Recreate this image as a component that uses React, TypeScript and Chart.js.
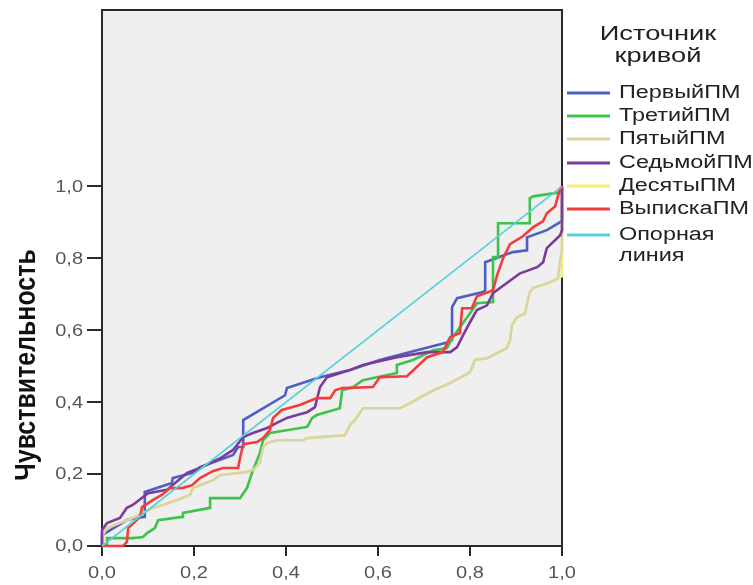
import React, { useEffect, useRef } from "react";
import { Chart, registerables } from "chart.js";

Chart.register(...registerables);

// ---- Data ----
const tickValues = [0, 0.2, 0.4, 0.6, 0.8, 1.0];
const tickLabels = ["0,0", "0,2", "0,4", "0,6", "0,8", "1,0"];
const yAxisTitle = "Чувствительность";
const legendTitle = ["Источник", "кривой"];

const seriesNames = [
  ["ПервыйПМ"],
  ["ТретийПМ"],
  ["ПятыйПМ"],
  ["СедьмойПМ"],
  ["ДесятыПМ"],
  ["ВыпискаПМ"],
  ["Опорная", "линия"],
];
const seriesColors = ["#4d5fc2", "#3fc24c", "#d9d4a2", "#7d3a9c", "#f2ee7c", "#f43c3c", "#55d2d8"];

const pervyiPM: [number, number][] = [
  [0, 0], [0, 0.03], [0.054, 0.072], [0.076, 0.078], [0.093, 0.081], [0.093, 0.15],
  [0.152, 0.175], [0.154, 0.189], [0.196, 0.203], [0.213, 0.219], [0.285, 0.253],
  [0.296, 0.275], [0.307, 0.275], [0.307, 0.35], [0.398, 0.419], [0.402, 0.439],
  [0.474, 0.469], [0.539, 0.489], [0.604, 0.517], [0.67, 0.539], [0.746, 0.564],
  [0.761, 0.572], [0.761, 0.664], [0.772, 0.689], [0.828, 0.706], [0.833, 0.711],
  [0.833, 0.789], [0.893, 0.817], [0.924, 0.822], [0.924, 0.858], [0.967, 0.878],
  [0.996, 0.9], [1, 0.906], [1, 1],
];

const tretiiPM: [number, number][] = [
  [0, 0], [0.011, 0.003], [0.011, 0.022], [0.067, 0.022], [0.089, 0.025], [0.098, 0.036],
  [0.115, 0.05], [0.122, 0.072], [0.174, 0.081], [0.176, 0.092], [0.235, 0.106],
  [0.235, 0.133], [0.3, 0.133], [0.315, 0.161], [0.326, 0.203], [0.343, 0.258],
  [0.35, 0.294], [0.365, 0.314], [0.446, 0.331], [0.457, 0.356], [0.467, 0.364],
  [0.517, 0.383], [0.522, 0.433], [0.546, 0.442], [0.567, 0.461], [0.641, 0.481],
  [0.641, 0.503], [0.676, 0.517], [0.72, 0.544], [0.75, 0.55], [0.763, 0.581],
  [0.778, 0.608], [0.8, 0.647], [0.815, 0.675], [0.85, 0.678], [0.85, 0.803],
  [0.861, 0.803], [0.861, 0.897], [0.93, 0.897], [0.93, 0.967], [0.937, 0.972],
  [0.996, 0.983], [1, 1],
];

const pyatyiPM: [number, number][] = [
  [0, 0], [0.002, 0.031], [0.011, 0.05], [0.039, 0.064], [0.067, 0.078], [0.089, 0.092],
  [0.111, 0.106], [0.133, 0.114], [0.163, 0.128], [0.191, 0.142], [0.198, 0.161],
  [0.213, 0.169], [0.241, 0.183], [0.257, 0.197], [0.315, 0.206], [0.328, 0.211],
  [0.343, 0.231], [0.35, 0.275], [0.359, 0.286], [0.38, 0.294], [0.437, 0.294],
  [0.446, 0.3], [0.528, 0.308], [0.539, 0.336], [0.55, 0.35], [0.567, 0.383],
  [0.648, 0.383], [0.674, 0.4], [0.713, 0.428], [0.757, 0.453], [0.8, 0.483],
  [0.811, 0.517], [0.837, 0.522], [0.88, 0.55], [0.887, 0.572], [0.891, 0.614],
  [0.902, 0.636], [0.92, 0.647], [0.924, 0.675], [0.93, 0.706], [0.937, 0.717],
  [0.974, 0.733], [0.991, 0.744], [0.996, 0.794], [1, 0.822], [1, 1],
];

const sedmoiPM: [number, number][] = [
  [0, 0], [0, 0.044], [0.011, 0.064], [0.039, 0.078], [0.054, 0.106], [0.067, 0.114],
  [0.1, 0.147], [0.141, 0.156], [0.185, 0.203], [0.213, 0.217], [0.235, 0.231],
  [0.257, 0.244], [0.285, 0.267], [0.307, 0.303], [0.328, 0.314], [0.359, 0.328],
  [0.38, 0.342], [0.402, 0.356], [0.424, 0.364], [0.446, 0.372], [0.463, 0.386],
  [0.474, 0.442], [0.489, 0.469], [0.539, 0.489], [0.567, 0.503], [0.641, 0.525],
  [0.707, 0.539], [0.757, 0.539], [0.772, 0.553], [0.785, 0.586], [0.8, 0.622],
  [0.815, 0.656], [0.837, 0.669], [0.85, 0.703], [0.88, 0.731], [0.909, 0.758],
  [0.946, 0.775], [0.959, 0.789], [0.967, 0.828], [0.996, 0.864], [1, 0.878], [1, 1],
];

// hidden almost entirely beneath ПятыйПМ in the reference
const desyatyiPM: [number, number][] = [
  [0, 0], [0.002, 0.031], [0.011, 0.05], [0.039, 0.064], [0.067, 0.078], [0.089, 0.092],
  [0.111, 0.106], [0.133, 0.114], [0.163, 0.128], [0.191, 0.142], [0.198, 0.161],
  [0.213, 0.169], [0.241, 0.183], [0.257, 0.197], [0.315, 0.206], [0.328, 0.211],
  [0.343, 0.231], [0.35, 0.275], [0.359, 0.286], [0.38, 0.294], [0.437, 0.294],
  [0.446, 0.3], [0.528, 0.308], [0.539, 0.336], [0.55, 0.35], [0.567, 0.383],
  [0.648, 0.383], [0.674, 0.4], [0.713, 0.428], [0.757, 0.453], [0.8, 0.483],
  [0.811, 0.517], [0.837, 0.522], [0.88, 0.55], [0.887, 0.572], [0.891, 0.614],
  [0.902, 0.636], [0.92, 0.647], [0.924, 0.675], [0.93, 0.706], [0.937, 0.717],
  [0.974, 0.733], [0.991, 0.744], [1, 0.75], [1, 1],
];

const vypiskaPM: [number, number][] = [
  [0, 0], [0.046, 0], [0.054, 0.011], [0.057, 0.05], [0.083, 0.081], [0.087, 0.108],
  [0.111, 0.128], [0.13, 0.142], [0.148, 0.161], [0.174, 0.161], [0.196, 0.169],
  [0.213, 0.189], [0.241, 0.208], [0.263, 0.217], [0.296, 0.217], [0.3, 0.244],
  [0.307, 0.283], [0.337, 0.289], [0.35, 0.3], [0.365, 0.322], [0.372, 0.356],
  [0.391, 0.378], [0.43, 0.392], [0.467, 0.411], [0.496, 0.411], [0.507, 0.433],
  [0.522, 0.439], [0.589, 0.442], [0.604, 0.469], [0.663, 0.472], [0.707, 0.525],
  [0.741, 0.539], [0.757, 0.581], [0.778, 0.592], [0.783, 0.661], [0.804, 0.661],
  [0.815, 0.694], [0.85, 0.711], [0.859, 0.753], [0.872, 0.8], [0.887, 0.839],
  [0.915, 0.861], [0.937, 0.886], [0.959, 0.903], [0.967, 0.925], [0.985, 0.944],
  [0.996, 0.994], [1, 1],
];

const opornayaLiniya: [number, number][] = [
  [0, 0], [1, 1],
];

const seriesData = [pervyiPM, tretiiPM, pyatyiPM, sedmoiPM, desyatyiPM, vypiskaPM, opornayaLiniya];
// drawing order: lower = on top
const seriesOrder = [6, 5, 4, 3, 7, 1, 0];
const seriesWidths = [2.6, 2.6, 2.6, 2.6, 2.6, 2.6, 1.6];

const FONT = "'Liberation Sans', Arial, sans-serif";

function drawStretched(
  ctx: CanvasRenderingContext2D,
  text: string,
  x: number,
  y: number,
  size: number,
  sx: number,
  align: CanvasTextAlign,
  baseline: CanvasTextBaseline,
  color: string
) {
  ctx.save();
  ctx.translate(x, y);
  ctx.scale(sx, 1);
  ctx.font = `${size}px ${FONT}`;
  ctx.fillStyle = color;
  ctx.textAlign = align;
  ctx.textBaseline = baseline;
  ctx.fillText(text, 0, 0);
  ctx.restore();
}

const decorPlugin = {
  id: "decor",
  beforeDraw(chart: any) {
    const { ctx, chartArea } = chart;
    const { left, top, right, bottom } = chartArea;
    ctx.save();
    ctx.fillStyle = "#efefef";
    ctx.fillRect(left, top, right - left, bottom - top);
    ctx.restore();
  },
  beforeDatasetsDraw(chart: any) {
    const { ctx, chartArea } = chart;
    const { left, top, right, bottom } = chartArea;
    ctx.save();
    ctx.strokeStyle = "#2a2a2a";
    ctx.lineWidth = 2;
    ctx.strokeRect(left, top, right - left, bottom - top);
    ctx.restore();
  },
  afterDraw(chart: any) {
    const { ctx } = chart;
    const xs = chart.scales.x;
    const ys = chart.scales.y;
    // tick labels
    tickValues.forEach((v, i) => {
      const px = xs.getPixelForValue(v);
      drawStretched(ctx, tickLabels[i], px, 578, 16, 1.25, "center", "alphabetic", "#555");
      const py = ys.getPixelForValue(v);
      drawStretched(ctx, tickLabels[i], 83, py + 1, 16, 1.25, "right", "middle", "#555");
    });
    // y title
    ctx.save();
    ctx.translate(27, 365);
    ctx.rotate(-Math.PI / 2);
    ctx.scale(0.86, 1);
    ctx.font = `bold 29px ${FONT}`;
    ctx.fillStyle = "#111";
    ctx.textAlign = "center";
    ctx.textBaseline = "middle";
    ctx.fillText(yAxisTitle, 0, 0);
    ctx.restore();
    // legend title
    drawStretched(ctx, legendTitle[0], 658, 34, 21, 1.3, "center", "middle", "#222");
    drawStretched(ctx, legendTitle[1], 658, 56, 21, 1.3, "center", "middle", "#222");
    // legend items
    const itemY = [93, 116, 139, 163, 186, 209, 235];
    seriesNames.forEach((lines, i) => {
      const y = itemY[i];
      ctx.save();
      ctx.strokeStyle = seriesColors[i];
      ctx.lineWidth = 3;
      ctx.beginPath();
      ctx.moveTo(567, y);
      ctx.lineTo(610, y);
      ctx.stroke();
      ctx.restore();
      lines.forEach((t, j) => {
        drawStretched(ctx, t, 619, y + j * 21, 18, 1.3, "left", "middle", "#222");
      });
    });
  },
};

export default function App() {
  const canvasRef = useRef<HTMLCanvasElement | null>(null);

  useEffect(() => {
    document.body.style.margin = "0";
    const canvas = canvasRef.current;
    if (!canvas) return;
    const datasets = seriesData.map((pts, i) => ({
      label: seriesNames[i].join(" "),
      data: pts.map(([x, y]) => ({ x, y })),
      showLine: true,
      borderColor: seriesColors[i],
      backgroundColor: seriesColors[i],
      borderWidth: seriesWidths[i],
      pointRadius: 0,
      pointHoverRadius: 0,
      fill: false,
      tension: 0,
      order: seriesOrder[i],
      clip: 4,
    }));
    const chart = new Chart(canvas, {
      type: "scatter",
      data: { datasets },
      options: {
        animation: false,
        responsive: false,
        devicePixelRatio: 1,
        layout: { padding: { top: 10, right: 191, left: 0, bottom: 0 } },
        plugins: { legend: { display: false }, tooltip: { enabled: false } },
        scales: {
          x: {
            type: "linear",
            min: 0,
            max: 1,
            afterBuildTicks: (s: any) => {
              s.ticks = tickValues.map((v) => ({ value: v }));
            },
            afterFit: (s: any) => {
              s.height = 39;
            },
            ticks: { display: false },
            grid: { drawOnChartArea: false, drawTicks: true, tickLength: 10, color: "#2a2a2a", lineWidth: 2 },
            border: { display: false },
          },
          y: {
            type: "linear",
            min: 0,
            max: 1.49,
            afterBuildTicks: (s: any) => {
              s.ticks = tickValues.map((v) => ({ value: v }));
            },
            afterFit: (s: any) => {
              s.width = 102;
            },
            ticks: { display: false },
            grid: { drawOnChartArea: false, drawTicks: true, tickLength: 15, color: "#2a2a2a", lineWidth: 2 },
            border: { display: false },
          },
        },
      },
      plugins: [decorPlugin],
    });
    return () => chart.destroy();
  }, []);

  return (
    <div style={{ width: 753, height: 585, background: "#fff" }}>
      <canvas ref={canvasRef} width={753} height={585} style={{ display: "block" }} />
    </div>
  );
}
